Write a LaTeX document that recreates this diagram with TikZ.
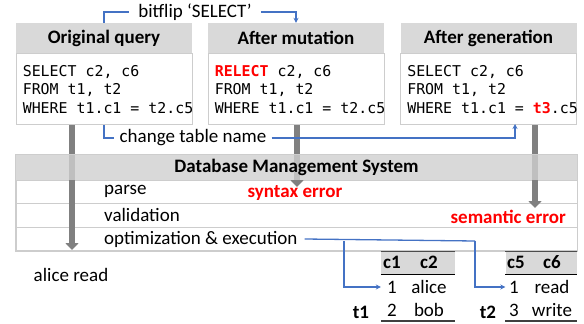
\documentclass[tikz,border=0pt]{standalone}
\usepackage{fontspec}
\setmainfont{Carlito}
\newfontfamily\codefont{DejaVu Sans Mono}
\newcommand\codesize{\codefont\fontsize{14.9}{18.5}\selectfont}
\usepackage{tikz}
\usetikzlibrary{arrows.meta, positioning, calc}

\definecolor{hdrgray}{RGB}{217, 217, 217}
\definecolor{dbgray}{RGB}{207, 207, 207}
\definecolor{edgegray}{RGB}{205, 205, 205}
\definecolor{flowgray}{RGB}{128, 128, 128}
\definecolor{linkblue}{RGB}{68, 114, 196}
\definecolor{errred}{RGB}{255, 0, 0}

\tikzset{
  txt/.style={font=\fontsize{19}{22}\selectfont, inner sep=2pt},
  qhead/.style={txt, font=\fontsize{19}{22}\selectfont\bfseries, fill=hdrgray, minimum width=176pt, minimum height=30pt},
  qbody/.style={draw=edgegray, line width=0.8pt, fill=white, anchor=north, minimum width=176pt, minimum height=71pt},
  code/.style={font=\codesize, align=left, inner sep=2pt, anchor=west},
  rowbox/.style={draw=edgegray, line width=0.8pt, minimum width=561pt, minimum height=23.5pt},
  errtxt/.style={txt, font=\fontsize{19}{22}\selectfont\bfseries, text=errred},
  flow/.style={flowgray, line width=6.5pt, -{Triangle[width=13pt, length=7pt]}},
  link/.style={linkblue, line width=1.3pt},
  cell/.style={txt, inner sep=1pt},
  tabhead/.style={fill=hdrgray, minimum height=23pt}
}

\begin{document}
\begin{tikzpicture}[x=1pt, y=-1pt]
  \useasboundingbox (0,0) rectangle (584,324);

  % Query boxes
  \node[qhead] (q1head) at (104, 38) {Original query};
  \node[qbody] (q1body) at (q1head.south) {};
  \node[code] (q1code) at ([xshift=5pt]q1body.west) {SELECT c2, c6\\FROM t1, t2\\WHERE t1.c1 = t2.c5};

  \node[qhead] (q2head) at (296, 38) {After mutation};
  \node[qbody] (q2body) at (q2head.south) {};
  \node[code] (q2code) at ([xshift=5pt]q2body.west) {{\bfseries\color{errred}RELECT} c2, c6\\FROM t1, t2\\WHERE t1.c1 = t2.c5};

  \node[qhead] (q3head) at (488.5, 38) {After generation};
  \node[qbody] (q3body) at (q3head.south) {};
  \node[code] (q3code) at ([xshift=5pt]q3body.west) {SELECT c2, c6\\FROM t1, t2\\WHERE t1.c1 = {\bfseries\color{errred}t3}.c5};

  % Database Management System
  \node[rowbox] (parse) at (296.5, 191.75) {};
  \node[rowbox] (valid) at (296.5, 215.25) {};
  \node[rowbox] (optim) at (296.5, 238.75) {};
  \node[txt, anchor=west] (parselbl) at (102, 191) {parse};
  \node[txt, anchor=west] (validlbl) at (102, 215) {validation};
  \node[txt, anchor=west, inner xsep=7pt] (optimlbl) at (97, 239) {optimization \& execution};

  % Flow of each query
  \coordinate (end1) at (72, 250);
  \coordinate (end2) at (297, 187);
  \coordinate (end3) at (535, 208);
  \draw[flow] (q1body.south -| end1) -- (end1);
  \draw[flow] (q2body.south -| end2) -- (end2);
  \draw[flow] (q3body.south -| end3) -- (end3);

  \node[qhead, fill=dbgray, fill opacity=0.8, text opacity=1, minimum width=561pt, minimum height=25pt] (dbms) at (296.5, 167.5) {Database Management System};
  \draw[edgegray, line width=0.8pt] (dbms.north west) rectangle (optim.south east);

  \node[errtxt] (syntax) at (295, 193) {syntax error};
  \node[errtxt, anchor=east] (semantic) at (568, 217) {semantic error};

  \node[txt] (result) at (71, 275) {alice read};

  % Mutation steps
  \node[txt, inner xsep=9pt] (bitflip) at (195, 12) {bitflip `SELECT'};
  \draw[link] (q1head.north) |- (bitflip.west);
  \draw[link, -{Stealth[length=5pt, width=5pt]}] (bitflip.east) -| (q2head.north);

  \node[txt, inner xsep=5pt] (rename) at (193, 138) {change table name};
  \coordinate (q3in) at (515, 124);
  \draw[link] (q1body.south) |- (rename.west);
  \draw[link, -{Stealth[length=5pt, width=5pt]}] (rename.east) -| (q3in);

  % Tables
  \node[tabhead, minimum width=74pt] (t1head) at (418, 262.5) {};
  \node[cell, font=\fontsize{19}{22}\selectfont\bfseries] (t1c1) at (392, 262) {c1};
  \node[cell, font=\fontsize{19}{22}\selectfont\bfseries] (t1c2) at (429, 262) {c2};
  \node[cell] (t1one) at (392, 287) {1};
  \node[cell] (t1alice) at (429, 287) {alice};
  \node[cell] (t1two) at (392, 310) {2};
  \node[cell] (t1bob) at (429, 310) {bob};
  \node[cell, font=\fontsize{19}{22}\selectfont\bfseries] (t1) at (361, 312) {t1};
  \draw[black!70, line width=0.6pt] (t1head.north west) -- (t1head.north east);
  \draw[black, line width=1.1pt] (t1head.south west) -- (t1head.south east);
  \draw[black!75, line width=1.1pt] (t1head.west |- 0,321) -- (t1head.east |- 0,321);

  \node[tabhead, minimum width=71pt] (t2head) at (541, 262.5) {};
  \node[cell, font=\fontsize{19}{22}\selectfont\bfseries] (t2c5) at (516, 262) {c5};
  \node[cell, font=\fontsize{19}{22}\selectfont\bfseries] (t2c6) at (552, 262) {c6};
  \node[cell] (t2one) at (514, 287) {1};
  \node[cell] (t2read) at (552, 287) {read};
  \node[cell] (t2three) at (514, 310) {3};
  \node[cell] (t2write) at (552, 310) {write};
  \node[cell, font=\fontsize{19}{22}\selectfont\bfseries] (t2) at (488, 312) {t2};
  \draw[black!70, line width=0.6pt] (t2head.north west) -- (t2head.north east);
  \draw[black, line width=1.1pt] (t2head.south west) -- (t2head.south east);
  \draw[black!75, line width=1.1pt] (t2head.west |- 0,321) -- (t2head.east |- 0,321);

  % Execution reads both tables
  \coordinate (fork1) at (344, 241);
  \coordinate (fork2) at (475, 241);
  \draw[link] (optimlbl.east) -- (fork2);
  \draw[link, -{Stealth[length=5pt, width=5pt]}] (fork1) |- (t1head.west |- t1one);
  \draw[link, -{Stealth[length=5pt, width=5pt]}] (fork2) |- (t2head.west |- t2one);
\end{tikzpicture}
\end{document}
